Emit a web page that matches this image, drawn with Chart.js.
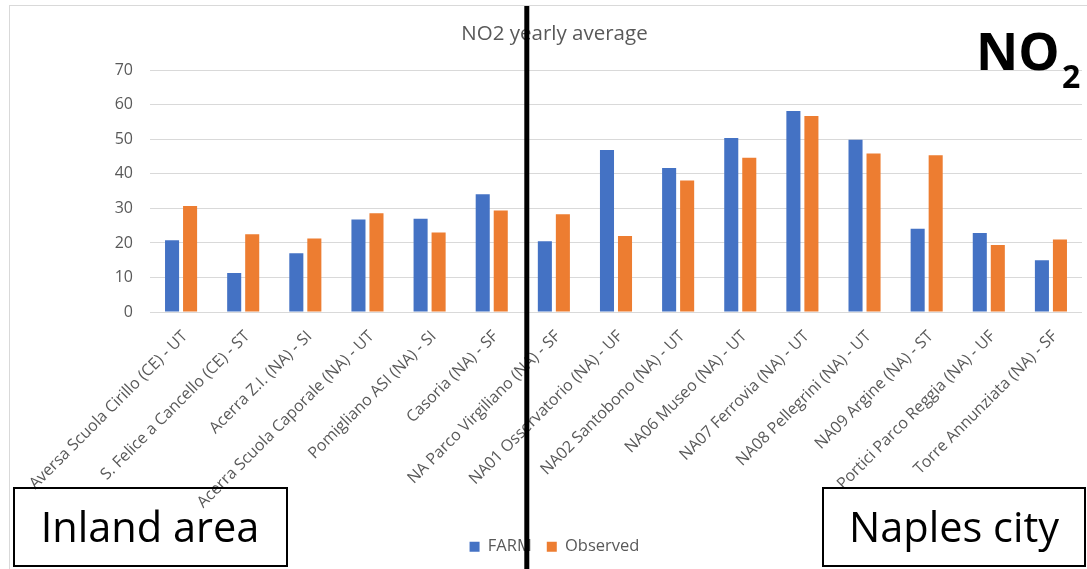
<!DOCTYPE html>
<html>
<head>
<meta charset="utf-8">
<title>NO2 yearly average</title>
<script src="https://cdn.jsdelivr.net/npm/chart.js@4"></script>
<style>
  html, body { margin: 0; padding: 0; background: #ffffff; }
  #wrap { position: relative; width: 1087px; height: 569px; }
</style>
</head>
<body>
<div id="wrap"><canvas id="chart"></canvas></div>
<script>
// Monitoring stations (inland area first, then Naples city)
const stations = [
  'Aversa Scuola Cirillo (CE) - UT',
  'S. Felice a Cancello (CE) - ST',
  'Acerra Z.I. (NA) - SI',
  'Acerra Scuola Caporale (NA) - UT',
  'Pomigliano ASI (NA) - SI',
  'Casoria (NA) - SF',
  'NA Parco Virgiliano (NA) - SF',
  'NA01 Osservatorio (NA) - UF',
  'NA02 Santobono (NA) - UT',
  'NA06 Museo (NA) - UT',
  'NA07 Ferrovia (NA) - UT',
  'NA08 Pellegrini (NA) - UT',
  'NA09 Argine (NA) - ST',
  'Portici Parco Reggia (NA) - UF',
  'Torre Annunziata (NA) - SF'
];

// Yearly mean NO2 concentrations
const farmValues     = [20.8, 11.3, 17.0, 26.8, 27.0, 34.1, 20.5, 46.9, 41.7, 50.4, 58.2, 49.9, 24.1, 22.9, 15.0];
const observedValues = [30.7, 22.5, 21.3, 28.6, 23.0, 29.4, 28.3, 22.0, 38.1, 44.7, 56.8, 45.9, 45.4, 19.4, 21.0];

const seriesNames = ['FARM', 'Observed'];
const yTicks = [0, 10, 20, 30, 40, 50, 60, 70];
const chartTitle = 'NO2 yearly average';
const regionLabels = ['Inland area', 'Naples city'];
const lastInlandIndex = 5;

const FONT = "'Open Sans', 'Noto Sans', sans-serif";
const GREY = '#595959';

// Frame around the whole chart, drawn underneath
const framePlugin = {
  id: 'frame',
  beforeDraw(chart) {
    const ctx = chart.ctx;
    ctx.save();
    ctx.strokeStyle = '#d9d9d9';
    ctx.lineWidth = 1;
    ctx.strokeRect(9.5, 5.5, chart.width + 20, chart.height + 20);
    ctx.restore();
  }
};

// Divider between areas, area captions and the pollutant tag
const overlayPlugin = {
  id: 'overlay',
  afterDraw(chart) {
    const ctx = chart.ctx;
    const x = chart.scales.x;
    ctx.save();

    // area captions in framed boxes
    ctx.strokeStyle = '#000000';
    ctx.lineWidth = 2;
    ctx.strokeRect(14, 488, 273, 78);
    ctx.strokeRect(823, 488, 262, 78);
    ctx.fillStyle = '#000000';
    ctx.textAlign = 'center';
    ctx.textBaseline = 'alphabetic';
    ctx.font = '41.5px ' + FONT;
    ctx.fillText(regionLabels[0], 150, 541.5);
    ctx.fillText(regionLabels[1], 954, 541.5);

    // pollutant tag NO₂
    ctx.textAlign = 'left';
    ctx.font = 'bold 52px ' + FONT;
    ctx.fillText('NO', 976, 69.5);
    ctx.font = 'bold 32px ' + FONT;
    ctx.fillText('2', 1062, 88);

    // thick divider between the inland stations and the city stations
    const split = (x.getPixelForValue(lastInlandIndex) + x.getPixelForValue(lastInlandIndex + 1)) / 2 + 4;
    ctx.fillRect(split - 2.5, 6, 5, chart.height);
    ctx.restore();
  }
};

new Chart(document.getElementById('chart'), {
  type: 'bar',
  data: {
    labels: stations,
    datasets: [
      {
        label: seriesNames[0],
        data: farmValues,
        backgroundColor: '#4472C4',
        categoryPercentage: 0.58,
        barPercentage: 0.78
      },
      {
        label: seriesNames[1],
        data: observedValues,
        backgroundColor: '#ED7D31',
        categoryPercentage: 0.58,
        barPercentage: 0.78
      }
    ]
  },
  options: {
    responsive: true,
    maintainAspectRatio: false,
    animation: false,
    layout: { padding: { left: 27, right: 5, top: 0, bottom: 4 } },
    plugins: {
      title: {
        display: true,
        text: chartTitle,
        color: GREY,
        font: { family: FONT, size: 20.5, weight: 'normal', lineHeight: 1.2 },
        padding: { top: 21.5, bottom: 24.2 }
      },
      legend: {
        position: 'bottom',
        labels: {
          color: GREY,
          font: { family: FONT, size: 16.5 },
          boxWidth: 10,
          boxHeight: 10,
          padding: 15
        }
      },
      tooltip: { enabled: false }
    },
    scales: {
      x: {
        grid: { display: false },
        border: { display: false },
        ticks: {
          color: GREY,
          font: { family: FONT, size: 16 },
          autoSkip: false,
          minRotation: 45,
          maxRotation: 45,
          padding: 7,
          labelOffset: 4
        },
        afterFit(scale) {
          const legendH = scale.chart.legend ? scale.chart.legend.height : 40;
          scale.height = scale.chart.height - 312 - legendH - 4;
        }
      },
      y: {
        min: 0,
        max: 70,
        afterBuildTicks(scale) {
          scale.ticks = yTicks.map(v => ({ value: v }));
        },
        grid: { color: '#d9d9d9', lineWidth: 1, drawTicks: false },
        border: { display: false },
        ticks: {
          color: GREY,
          font: { family: FONT, size: 16 },
          padding: 17
        },
        afterFit(scale) {
          scale.width = 123;
        }
      }
    }
  },
  plugins: [framePlugin, overlayPlugin]
});
</script>
</body>
</html>
